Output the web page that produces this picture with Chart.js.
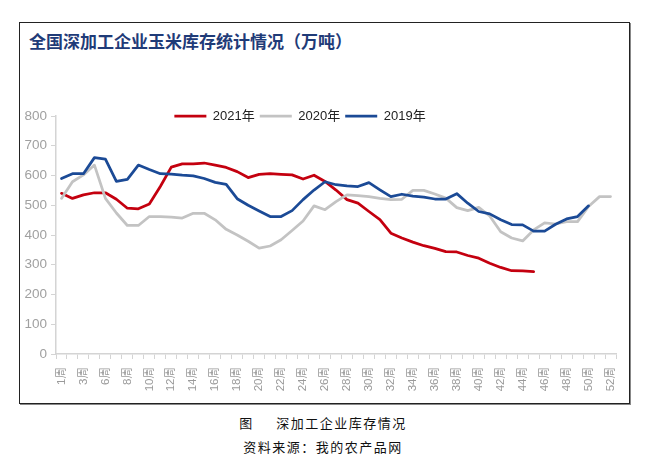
<!DOCTYPE html>
<html><head><meta charset="utf-8">
<script src="https://cdn.jsdelivr.net/npm/chart.js@4"></script>
<style>
html,body{margin:0;padding:0;background:#fff;width:646px;height:462px;overflow:hidden;position:relative;}
#frame{position:absolute;left:19px;top:22px;width:611px;height:382px;box-sizing:border-box;border:1.5px solid #222;box-shadow:1px 1px 0 #888;}
#title{position:absolute;left:29px;top:30px;font-family:'Noto Sans CJK SC',sans-serif;font-size:17px;font-weight:bold;color:#1f3b78;line-height:22px;white-space:nowrap;}
#cv{position:absolute;left:-16px;top:0;}
.cap{position:absolute;left:0;width:646px;text-align:center;font-family:'Noto Sans CJK SC',sans-serif;font-size:13px;color:#111;line-height:18px;letter-spacing:1.5px;}
</style></head>
<body>
<div id="frame"></div>
<div id="title">全国深加工企业玉米库存统计情况（万吨）</div>
<canvas id="cv" width="662" height="404"></canvas>
<div class="cap" style="top:414px;">图&emsp;&ensp;深加工企业库存情况</div>
<div class="cap" style="top:438px;">资料来源：我的农产品网</div>
<script>
const weeks = ['1周','2周','3周','4周','6周','7周','8周','9周','10周','11周','12周','13周','14周','15周','16周','17周','18周','19周','20周','21周','22周','23周','24周','25周','26周','27周','28周','29周','30周','31周','32周','33周','34周','35周','36周','37周','38周','39周','40周','41周','42周','43周','44周','45周','46周','47周','48周','49周','50周','51周','52周'];
const seriesNames = ['2021年','2020年','2019年'];
const y2021 = [540,523,535,542,542,520,490,488,504,563,628,639,639,642,635,627,613,593,604,606,604,602,588,601,580,551,519,507,479,452,406,390,376,364,355,344,343,331,322,305,291,280,279,277];
const y2020 = [523,579,602,635,523,474,432,432,462,462,460,457,473,473,451,419,400,379,356,363,384,415,447,498,485,512,535,532,529,523,519,520,550,550,538,524,492,482,493,464,411,390,380,417,441,437,445,445,496,529,529];
const y2019 = [590,606,606,660,655,580,587,635,620,606,605,601,599,590,577,570,522,500,481,462,462,482,519,551,579,569,565,563,576,552,529,537,531,527,521,521,539,507,479,471,451,435,434,413,413,436,454,462,498];
const yMin = 0, yMax = 800, yStep = 100;

Chart.defaults.font.family = "'Liberation Sans', Arial, 'Noto Sans CJK SC', sans-serif";
const LEGEND_CENTER_Y = 116;
const legendShift = {
  id: 'legendShift',
  afterUpdate(chart) {
    const l = chart.legend;
    const pad = l.options.labels.padding;
    const newTop = LEGEND_CENTER_Y - pad - 6.5;
    const dy = newTop - l.top;
    l.top += dy; l.bottom += dy;
  }
};
function ds(label, data, color, order) {
  return {label, data, borderColor: color, backgroundColor: color, borderWidth: 2.75,
    pointRadius: 0, pointHoverRadius: 0, tension: 0, fill: false, order,
    borderJoinStyle: 'round', borderCapStyle: 'round'};
}
new Chart(document.getElementById('cv'), {
  type: 'line',
  data: {
    labels: weeks,
    datasets: [
      ds(seriesNames[0], y2021, '#c4000f', 2),
      ds(seriesNames[1], y2020, '#c3c3c3', 1),
      ds(seriesNames[2], y2019, '#1b4a96', 0)
    ]
  },
  options: {
    responsive: false, animation: false, devicePixelRatio: 1,
    layout: {padding: {left: 0, right: 30, top: 88, bottom: 0}},
    plugins: {
      legend: {position: 'top', labels: {usePointStyle: true, pointStyle: 'line', pointStyleWidth: 32,
        padding: 5, color: '#222', font: {size: 13},
        sort: (a, b) => a.datasetIndex - b.datasetIndex}},
      tooltip: {enabled: false}
    },
    scales: {
      x: {
        offset: true,
        grid: {offset: true, drawOnChartArea: false, drawTicks: true, tickLength: 5, color: '#d4d4d4'},
        border: {color: '#d4d4d4', width: 1.5},
        ticks: {autoSkip: false, maxRotation: 90, minRotation: 90, padding: 8, color: '#9a9a9a',
          font: {size: 11.5}, callback: (v, i) => (i % 2 === 0 ? weeks[i] : '')},
        afterFit: s => { s.height = 50; }
      },
      y: {
        min: yMin, max: yMax,
        ticks: {stepSize: yStep, padding: 4, color: '#a0a0a0', font: {size: 13.5}},
        grid: {drawOnChartArea: false, tickLength: 5, color: '#d4d4d4'},
        border: {color: '#d4d4d4', width: 1.5},
        afterFit: s => { s.width = 72; }
      }
    }
  },
  plugins: [legendShift]
});
</script>
</body></html>
